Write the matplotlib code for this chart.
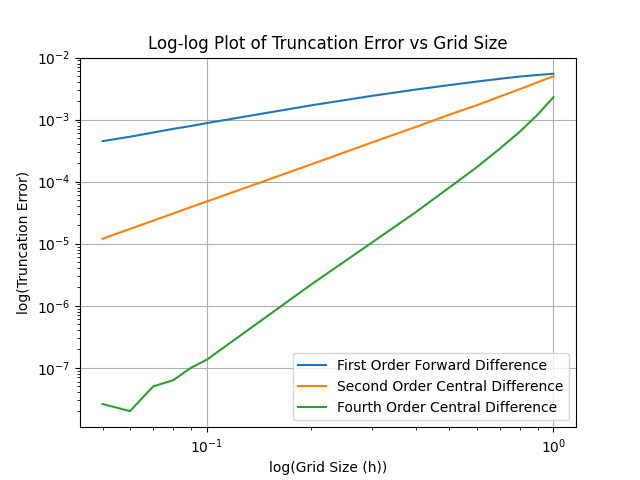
import matplotlib
matplotlib.use("Agg")
import matplotlib.pyplot as plt

h = [0.05, 0.06, 0.07, 0.08, 0.09, 0.1, 0.2, 0.3, 0.4, 0.5, 0.6, 0.7, 0.8, 0.9, 1.0]
err_forward = [4.5e-4, 5.3e-4, 6.2e-4, 7.1e-4, 7.9e-4, 8.8e-4, 1.7e-3, 2.42e-3,
               3.05e-3, 3.6e-3, 4.1e-3, 4.55e-3, 4.95e-3, 5.25e-3, 5.5e-3]
err_central2 = [1.2e-5, 1.73e-5, 2.35e-5, 3.07e-5, 3.9e-5, 4.8e-5, 1.9e-4, 4.3e-4,
                7.6e-4, 1.2e-3, 1.7e-3, 2.35e-3, 3.1e-3, 4.0e-3, 5.0e-3]
err_central4 = [2.6e-8, 2.0e-8, 5.0e-8, 6.3e-8, 1.0e-7, 1.35e-7, 2.2e-6, 1.05e-5,
                3.2e-5, 8.0e-5, 1.7e-4, 3.4e-4, 6.4e-4, 1.2e-3, 2.3e-3]

fig, ax = plt.subplots(figsize=(6.4, 4.8), dpi=100)
ax.loglog(h, err_forward, label="First Order Forward Difference")
ax.loglog(h, err_central2, label="Second Order Central Difference")
ax.loglog(h, err_central4, label="Fourth Order Central Difference")
ax.set_ylim(1.1e-8, 1e-2)
ax.set_xlabel("log(Grid Size (h))")
ax.set_ylabel("log(Truncation Error)")
ax.set_title("Log-log Plot of Truncation Error vs Grid Size")
ax.grid(True)
ax.legend(loc="lower right")
fig.savefig("out.png")
